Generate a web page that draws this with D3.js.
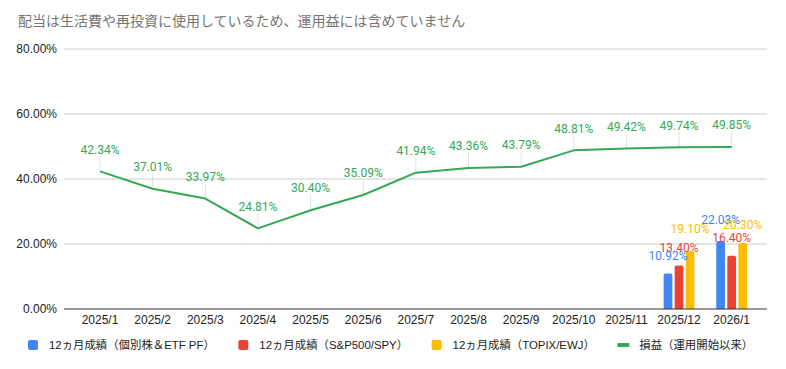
<!DOCTYPE html>
<html>
<head>
<meta charset="utf-8">
<script src="https://cdn.jsdelivr.net/npm/d3@7"></script>
<style>
  body { margin: 0; background: #fff; }
  svg { display: block; font-family: Roboto, "Noto Sans CJK JP", Arial, sans-serif; }
  .axis-text { font-family: Arial, "Liberation Sans", "Noto Sans CJK JP", sans-serif; }
</style>
</head>
<body>
<div id="chart"></div>
<script>
// data
const months = ["2025/1","2025/2","2025/3","2025/4","2025/5","2025/6","2025/7",
                "2025/8","2025/9","2025/10","2025/11","2025/12","2026/1"];
const cumReturn = [42.34, 37.01, 33.97, 24.81, 30.40, 35.09, 41.94,
                   43.36, 43.79, 48.81, 49.42, 49.74, 49.85];

// 12-month returns only exist for the last two months
const barMonths = ["2025/12", "2026/1"];
const pfLabel    = [10.92, 22.03];
const spyLabel   = [13.40, 16.40];
const topixLabel = [19.10, 20.30];
// bar heights as drawn (two of them sit lower than their labels)
const pfBar    = [10.92, 20.9];
const spyBar   = [13.40, 16.40];
const topixBar = [17.8, 20.30];

const yTicks = [0, 20, 40, 60, 80];

const title = "配当は生活費や再投資に使用しているため、運用益には含めていません";
const seriesNames = ["12ヵ月成績（個別株＆ETF PF）", "12ヵ月成績（S&P500/SPY）",
                     "12ヵ月成績（TOPIX/EWJ）", "損益（運用開始以来）"];
const colors = ["#4285f4", "#ea4335", "#fbbc04", "#34a853"];

const width = 786, height = 369;
const plotLeft = 64, plotRight = 767;

const svg = d3.select("#chart").append("svg")
  .attr("width", width)
  .attr("height", height);

const x = d3.scaleBand().domain(months).range([73.7, 758]);
const y = d3.scaleLinear().domain([0, 80]).range([309, 49]);
const sub = d3.scaleBand().domain([0, 1, 2]).range([-15.4, 15.4]).paddingInner(0.21);
const cx = m => x(m) + x.bandwidth() / 2;
const fmt = v => v.toFixed(2) + "%";

// title
svg.append("text")
  .attr("x", 18).attr("y", 26)
  .attr("font-size", 14)
  .attr("fill", "#757575")
  .text(title);

// gridlines + y labels
svg.append("g").selectAll("line")
  .data(yTicks.filter(t => t > 0))
  .join("line")
  .attr("x1", plotLeft).attr("x2", plotRight)
  .attr("y1", d => y(d)).attr("y2", d => y(d))
  .attr("stroke", "#cccccc");

svg.append("g").selectAll("text")
  .data(yTicks)
  .join("text")
  .attr("class", "axis-text")
  .attr("x", 57).attr("y", d => y(d))
  .attr("dy", "0.35em")
  .attr("text-anchor", "end")
  .attr("font-size", 12)
  .attr("fill", "#222")
  .text(d => d.toFixed(2) + "%");

// x labels
svg.append("g").selectAll("text")
  .data(months)
  .join("text")
  .attr("class", "axis-text")
  .attr("x", d => cx(d)).attr("y", 320)
  .attr("dy", "0.35em")
  .attr("text-anchor", "middle")
  .attr("font-size", 12)
  .attr("fill", "#222")
  .text(d => d);

// bars
const barRows = [];
barMonths.forEach((m, i) => {
  [[pfBar, pfLabel], [spyBar, spyLabel], [topixBar, topixLabel]].forEach(([b, l], s) => {
    barRows.push({ month: m, s: s, bar: b[i], label: l[i] });
  });
});

const r = 2;
svg.append("g").selectAll("path")
  .data(barRows)
  .join("path")
  .attr("fill", d => colors[d.s])
  .attr("d", d => {
    const x0 = cx(d.month) + sub(d.s), w = sub.bandwidth();
    const top = y(d.bar), bot = y(0);
    return `M${x0},${bot}V${top + r}Q${x0},${top} ${x0 + r},${top}H${x0 + w - r}` +
           `Q${x0 + w},${top} ${x0 + w},${top + r}V${bot}Z`;
  });

// baseline
svg.append("line")
  .attr("x1", plotLeft).attr("x2", plotRight)
  .attr("y1", y(0)).attr("y2", y(0))
  .attr("stroke", "#333");

// bar labels
svg.append("g").selectAll("text")
  .data(barRows)
  .join("text")
  .attr("x", d => cx(d.month) + sub(d.s) + sub.bandwidth() / 2)
  .attr("y", d => y(d.label) - 18)
  .attr("dy", "0.35em")
  .attr("text-anchor", "middle")
  .attr("font-size", 12)
  .attr("fill", d => colors[d.s])
  .text(d => fmt(d.label));

// cumulative line
const pts = months.map((m, i) => ({ month: m, v: cumReturn[i] }));

svg.append("g").selectAll("line")
  .data(pts)
  .join("line")
  .attr("x1", d => cx(d.month)).attr("x2", d => cx(d.month))
  .attr("y1", d => y(d.v)).attr("y2", d => y(d.v) - 15)
  .attr("stroke", "#e0e0e0");

svg.append("path")
  .datum(pts)
  .attr("fill", "none")
  .attr("stroke", colors[3])
  .attr("stroke-width", 2)
  .attr("stroke-linejoin", "round")
  .attr("d", d3.line().x(d => cx(d.month)).y(d => y(d.v)));

svg.append("g").selectAll("text")
  .data(pts)
  .join("text")
  .attr("x", d => cx(d.month))
  .attr("y", d => y(d.v) - 22)
  .attr("dy", "0.35em")
  .attr("text-anchor", "middle")
  .attr("font-size", 12)
  .attr("fill", colors[3])
  .text(d => fmt(d.v));

// legend
const legend = svg.append("g");
let lx = 28;
const ly = 345;
seriesNames.forEach((name, i) => {
  if (i < 3) {
    legend.append("rect")
      .attr("x", lx).attr("y", ly - 5)
      .attr("width", 10).attr("height", 10)
      .attr("rx", 2)
      .attr("fill", colors[i]);
  } else {
    legend.append("rect")
      .attr("x", lx - 1).attr("y", ly - 2)
      .attr("width", 12).attr("height", 4)
      .attr("rx", 1)
      .attr("fill", colors[i]);
  }
  const t = legend.append("text")
    .attr("class", "axis-text")
    .attr("x", lx + 21).attr("y", ly)
    .attr("dy", "0.35em")
    .attr("font-size", 11.4)
    .attr("fill", "#222")
    .text(name);
  lx += 21 + t.node().getComputedTextLength() + 23.5;
});
</script>
</body>
</html>
